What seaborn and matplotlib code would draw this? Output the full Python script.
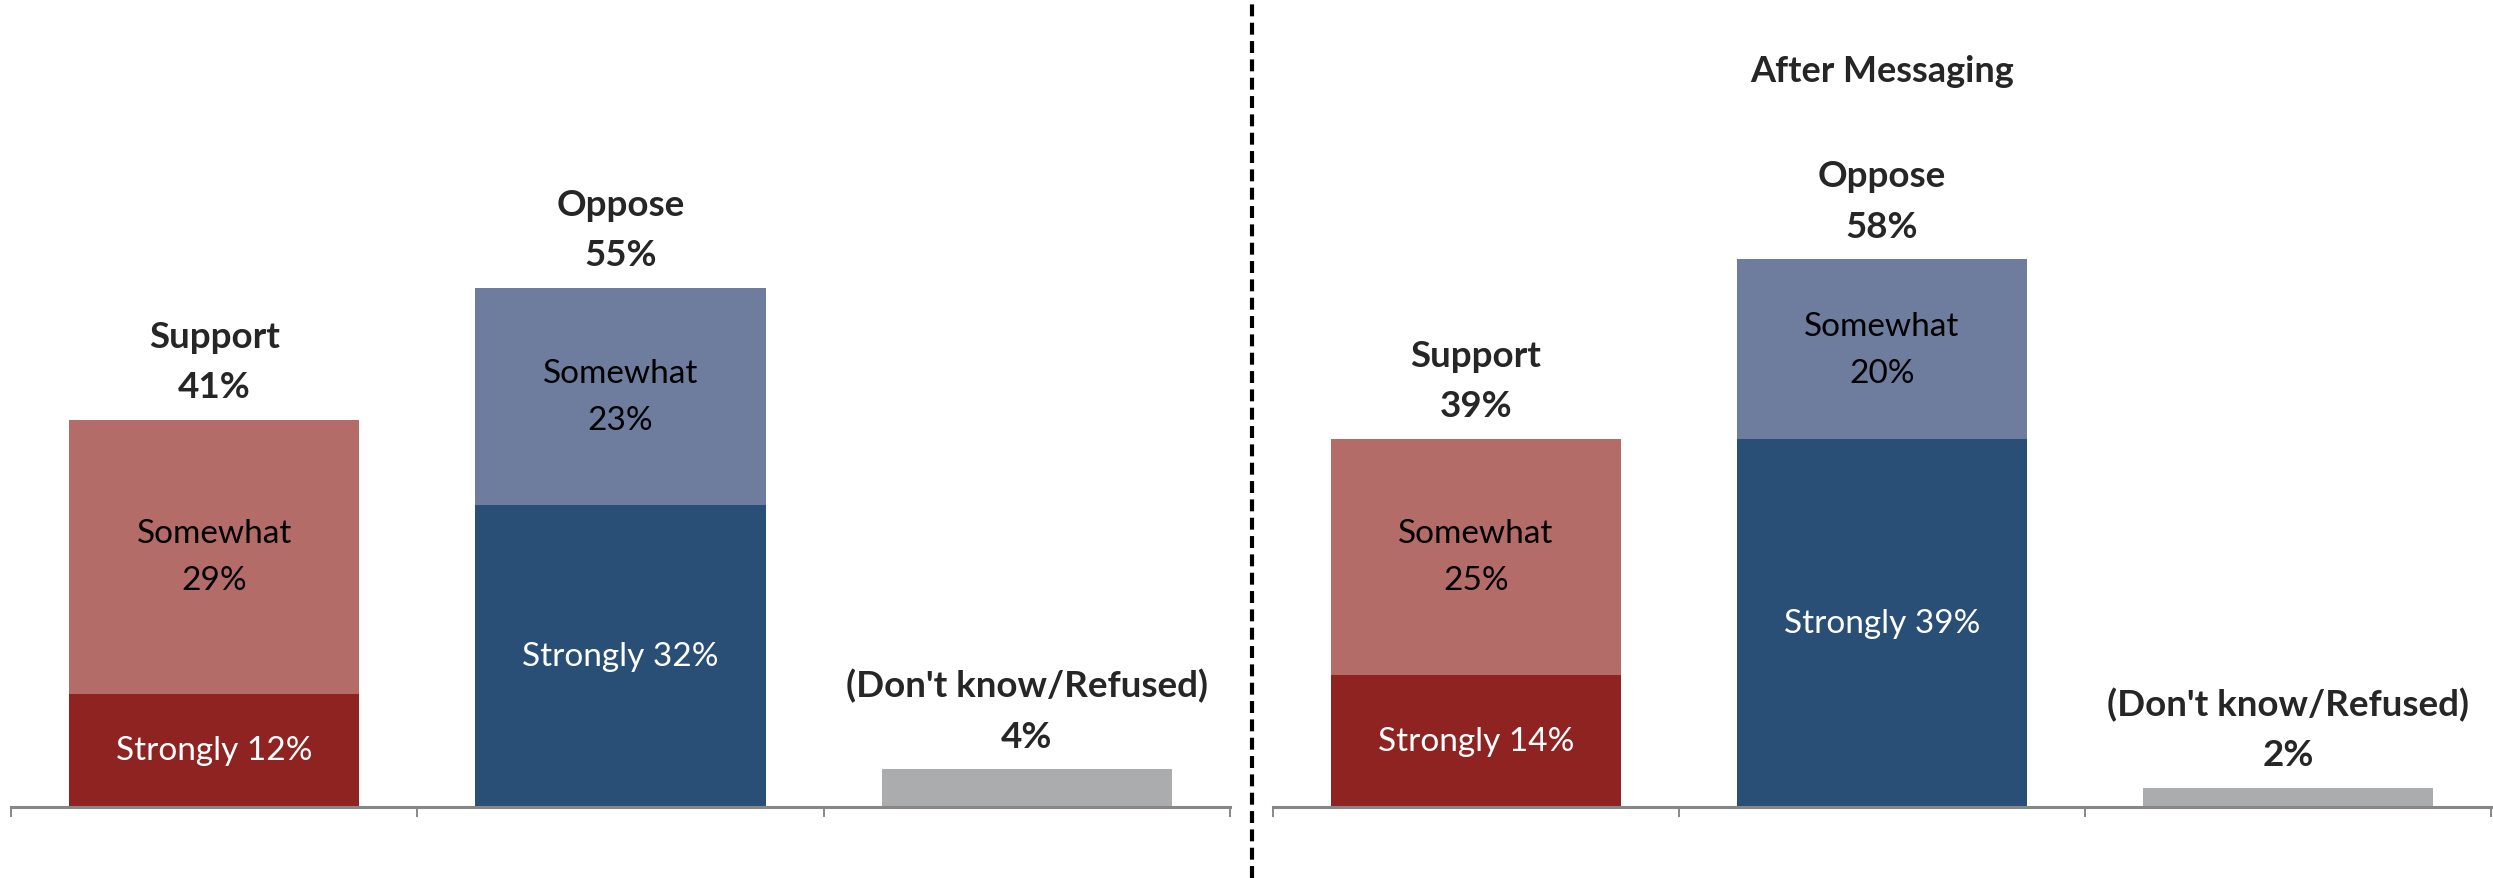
import matplotlib
matplotlib.use("Agg")
import matplotlib.pyplot as plt
import seaborn as sns
import pandas as pd
from matplotlib.lines import Line2D

sns.set_theme(style="white")
plt.rcParams['font.family'] = ['Lato', 'DejaVu Sans']
plt.rcParams['lines.scale_dashes'] = False

# ── Data ──────────────────────────────────────────────────────────────────────
categories = ["Support", "Oppose", "(Don't know/Refused)"]
top_labels = ["Support", "Oppose", "(Don't know/Refused)"]

before_total = [41, 55, 4]
before_strongly = [12, 32]
before_somewhat = [29, 23]

after_total = [39, 58, 2]
after_strongly = [14, 39]
after_somewhat = [25, 20]

panel_titles = ["", "After Messaging"]

light_colors = ["#B46C69", "#6E7D9E", "#ABACAE"]
dark_colors = ["#8F2322", "#294F76"]

fig = plt.figure(figsize=(24.93, 8.79), dpi=100)
W, H = 2493, 879
ax_left = fig.add_axes([11 / W, (H - 808) / H, (1230 - 11) / W, 808 / H])
ax_right = fig.add_axes([1273 / W, (H - 808) / H, (2491 - 1273) / W, 808 / H])


def draw_panel(ax, total, strongly, somewhat, title):
    df_tot = pd.DataFrame({"cat": categories, "val": total})
    sns.barplot(data=df_tot, x="cat", y="val", hue="cat", order=categories,
                palette=light_colors, width=0.715, legend=False, ax=ax,
                saturation=1, linewidth=0)
    df_str = pd.DataFrame({"cat": categories[:2], "val": strongly})
    sns.barplot(data=df_str, x="cat", y="val", hue="cat", order=categories,
                hue_order=categories[:2], palette=dark_colors, width=0.715,
                legend=False, ax=ax, saturation=1, linewidth=0)

    # labels inside the stacked bars
    for i in range(2):
        ax.text(i, strongly[i] / 2, f"Strongly {strongly[i]}%", ha="center",
                va="center", color="white", fontsize=24)
        ax.text(i, (strongly[i] + total[i]) / 2,
                f"Somewhat\n{somewhat[i]}%", ha="center", va="center",
                color="black", fontsize=24, linespacing=1.7)

    # totals above bars
    for i, lab in enumerate(top_labels):
        ax.annotate(f"{lab}\n{total[i]}%", xy=(i, total[i]), xytext=(0, 12),
                    textcoords="offset points", ha="center", va="bottom",
                    fontsize=26.5, fontweight="bold", linespacing=1.65)

    ax.set_xlim(-0.5, 2.5)
    ax.set_ylim(0, 808 / 9.44)
    ax.set_xticks([-0.5, 0.5, 1.5, 2.5])
    ax.set_xticklabels([])
    ax.set_yticks([])
    ax.set_xlabel("")
    ax.set_ylabel("")
    for s in ["top", "right", "left"]:
        ax.spines[s].set_visible(False)
    ax.spines["bottom"].set_color("#878787")
    ax.spines["bottom"].set_linewidth(2.2)
    ax.tick_params(axis="x", direction="out", length=7.5, width=1.4,
                   color="#878787", bottom=True)
    if title:
        ax.text(0.5, (808 - 72) / 808, title, transform=ax.transAxes,
                ha="center", va="center", fontsize=26, fontweight="bold")


draw_panel(ax_left, before_total, before_strongly, before_somewhat, panel_titles[0])
draw_panel(ax_right, after_total, after_strongly, after_somewhat, panel_titles[1])

# dashed divider between the two panels
fig.add_artist(Line2D([1252 / W, 1252 / W], [0, 1 - 5 / H], transform=fig.transFigure,
                      color="black", linewidth=3.0, linestyle=(0, (8.6, 4.6))))

fig.savefig("out.png", dpi=100)
